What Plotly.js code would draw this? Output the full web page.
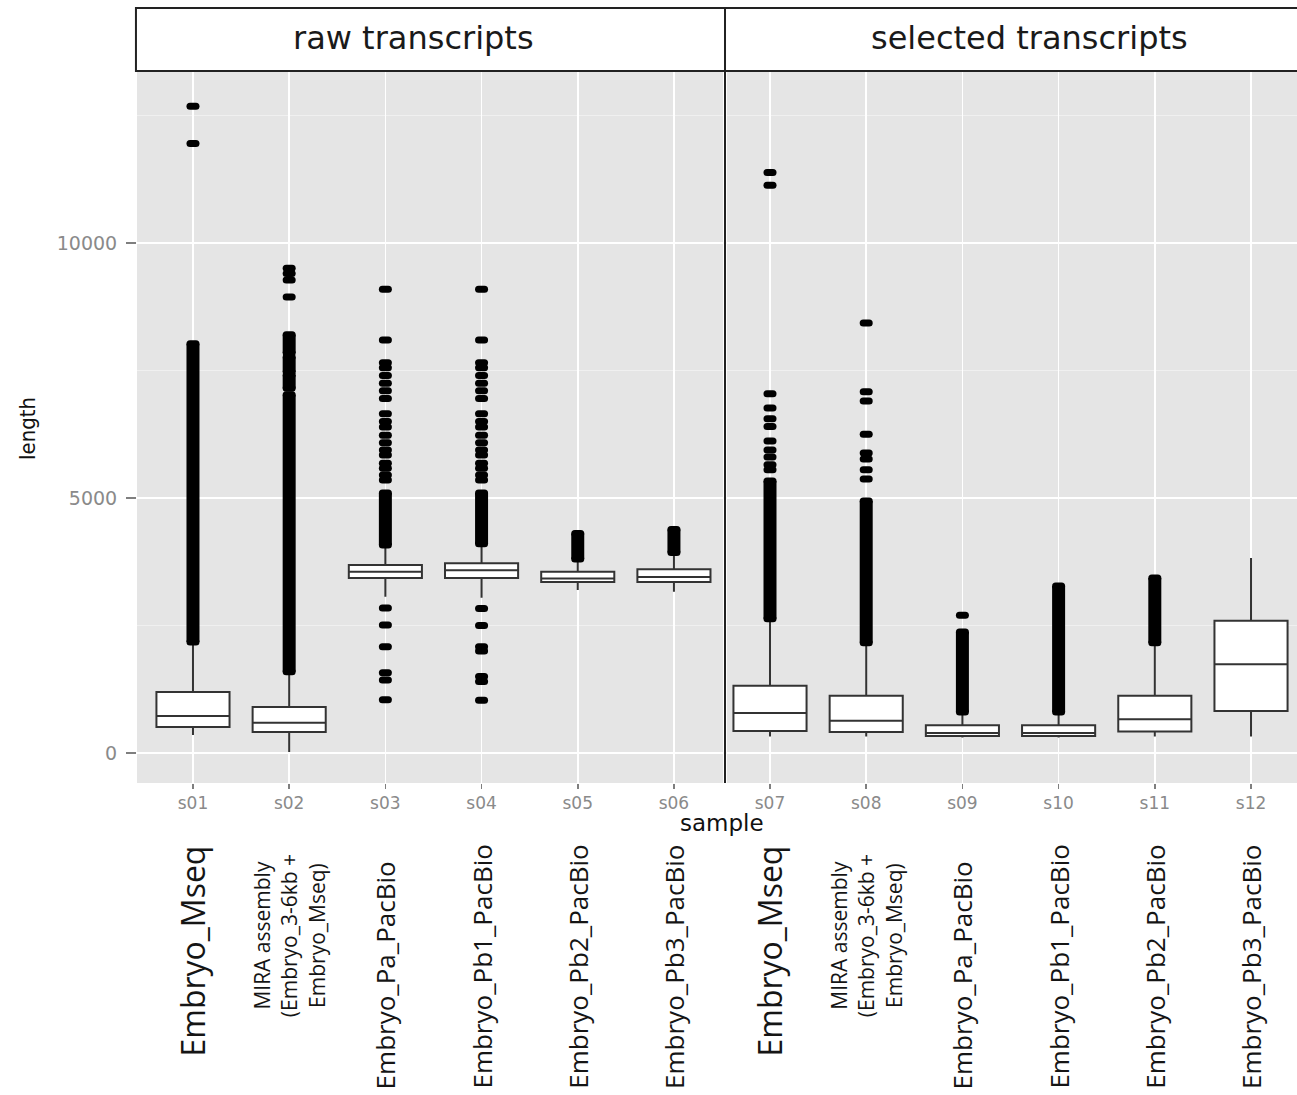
<!DOCTYPE html>
<html>
<head>
<meta charset="utf-8">
<script src="https://cdn.plot.ly/plotly-3.0.1.min.js"></script>
<style>
html,body{margin:0;padding:0;background:#fff;}
#chart{width:1297px;height:1095px;}
.js-plotly-plot .scatterlayer path.point{stroke-linecap:round;}
</style>
</head>
<body>
<div id="chart"></div>
<script>
// ---- data ----
const samples = ['s01','s02','s03','s04','s05','s06','s07','s08','s09','s10','s11','s12'];
const panelNames = ['raw transcripts','selected transcripts'];
const samplePanel = [0,0,0,0,0,0,1,1,1,1,1,1];
const sampleNames = [
  'Embryo_Mseq','MIRA assembly<br>(Embryo_3-6kb +<br>Embryo_Mseq)','Embryo_Pa_PacBio','Embryo_Pb1_PacBio','Embryo_Pb2_PacBio','Embryo_Pb3_PacBio',
  'Embryo_Mseq','MIRA assembly<br>(Embryo_3-6kb +<br>Embryo_Mseq)','Embryo_Pa_PacBio','Embryo_Pb1_PacBio','Embryo_Pb2_PacBio','Embryo_Pb3_PacBio'
];
const yTickVals = [0, 5000, 10000];
const q1          = [ 510,  410, 3430, 3430, 3350, 3350,  430,  410, 330, 330,  420,  820];
const median      = [ 725,  590, 3550, 3580, 3420, 3450,  780,  630, 390, 390,  660, 1740];
const q3          = [1195,  900, 3685, 3720, 3550, 3600, 1315, 1120, 540, 540, 1120, 2590];
const lowerWhisk  = [ 350,   20, 3060, 3040, 3195, 3160,  320,  320, 300, 300,  320,  320];
const upperWhisk  = [2175, 1590, 4077, 4100, 3780, 3920, 2620, 2160, 790, 790, 2160, 3820];
// single outliers
const outlierPoints = [
  [11950, 12680],
  [8940, 9270, 9400, 9500],
  [1040, 1430, 1570, 2080, 2510, 2840, 5350, 5450, 5580, 5680, 5840, 5940, 6080, 6230, 6390, 6500, 6650, 6950, 7100, 7250, 7400, 7550, 7650, 8095, 9090],
  [1030, 1400, 1500, 2000, 2080, 2500, 2830, 5350, 5450, 5580, 5680, 5840, 5940, 6080, 6230, 6390, 6500, 6650, 6950, 7100, 7250, 7400, 7550, 7650, 8095, 9090],
  [],
  [],
  [5550, 5650, 5800, 5940, 6115, 6400, 6550, 6760, 7040, 11130, 11380],
  [5370, 5550, 5760, 5880, 6250, 6900, 7080, 8430],
  [2700],
  [],
  [],
  []
];
// dense runs of outliers (start, end)
const outlierRuns = [
  [[2175, 8020]],
  [[1590, 7020], [7150, 7410], [7470, 7760], [7840, 8200]],
  [[4077, 5095]],
  [[4100, 5095]],
  [[3800, 4300]],
  [[3930, 4380]],
  [[2630, 5330]],
  [[2160, 4940]],
  [[800, 2370]],
  [[800, 3270]],
  [[2160, 3430]],
  []
];

// ---- traces ----
const traces = [];
for (let p = 0; p < 2; p++) {
  const xa = p === 0 ? 'x' : 'x2';
  const ya = p === 0 ? 'y' : 'y2';
  const idx = samples.map((s, i) => i).filter(i => samplePanel[i] === p);
  traces.push({
    type: 'box', xaxis: xa, yaxis: ya,
    x: idx.map(i => samples[i]),
    q1: idx.map(i => q1[i]), median: idx.map(i => median[i]), q3: idx.map(i => q3[i]),
    lowerfence: idx.map(i => lowerWhisk[i]), upperfence: idx.map(i => upperWhisk[i]),
    boxpoints: false, width: 0.76, whiskerwidth: 0,
    fillcolor: '#ffffff', line: {color: '#333333', width: 2},
    hoverinfo: 'skip', showlegend: false
  });
  const rx = [], ry = [];
  idx.forEach(i => outlierRuns[i].forEach(r => { rx.push(samples[i], samples[i], null); ry.push(r[0], r[1], null); }));
  traces.push({
    type: 'scatter', mode: 'lines', xaxis: xa, yaxis: ya, x: rx, y: ry,
    connectgaps: false, line: {color: '#000', width: 13}, hoverinfo: 'skip', showlegend: false
  });
  const px = [], py = [];
  idx.forEach(i => {
    outlierPoints[i].forEach(v => { px.push(samples[i]); py.push(v); });
    outlierRuns[i].forEach(r => { px.push(samples[i], samples[i]); py.push(r[0], r[1]); });
  });
  traces.push({
    type: 'scatter', mode: 'markers', xaxis: xa, yaxis: ya, x: px, y: py,
    marker: {symbol: 'line-ew', size: 4.3, color: '#000', line: {color: '#000', width: 7}},
    hoverinfo: 'skip', showlegend: false
  });
}

// ---- layout ----
const tickFontX = {family: 'DejaVu Sans, sans-serif', size: 17, color: '#8a8a8a'};
const tickFontY = {family: 'DejaVu Sans, sans-serif', size: 19, color: '#8a8a8a'};
const xCommon = {
  type: 'category', categoryorder: 'array',
  showgrid: true, gridcolor: '#ffffff', gridwidth: 1.6,
  ticks: 'outside', ticklen: 5, tickwidth: 1.5, tickcolor: '#7f7f7f',
  tickfont: tickFontX, zeroline: false, showline: false, fixedrange: true
};
const yCommon = {
  range: [-590, 13350], tickmode: 'array', tickvals: yTickVals, ticktext: yTickVals.map(String),
  showgrid: true, gridcolor: '#ffffff', gridwidth: 1.6,
  minor: {tick0: 0, dtick: 2500, showgrid: true, gridcolor: '#F2F2F2', gridwidth: 0.8, ticks: ''},
  zeroline: false, showline: false, fixedrange: true
};

const annotations = [];
// strip labels
const stripX = [0.238, 0.769];
panelNames.forEach((n, p) => annotations.push({
  xref: 'paper', yref: 'paper', x: stripX[p], y: 1.048, xanchor: 'center', yanchor: 'middle',
  text: n, showarrow: false, font: {family: 'DejaVu Sans, sans-serif', size: 32, color: '#1a1a1a'}
}));
// axis titles
annotations.push({xref: 'paper', yref: 'paper', x: 0.504, y: -0.0563, xanchor: 'center', yanchor: 'middle',
  text: 'sample', showarrow: false, font: {family: 'DejaVu Sans, sans-serif', size: 23, color: '#111'}});
annotations.push({xref: 'paper', yref: 'paper', x: -0.094, y: 0.4993, xanchor: 'center', yanchor: 'middle',
  text: 'length', textangle: -90, showarrow: false,
  font: {family: 'Liberation Sans Narrow, DejaVu Sans Condensed, Liberation Sans, sans-serif', size: 22, color: '#111'}});
// rotated sample names
sampleNames.forEach((n, i) => {
  const multi = n.indexOf('<br>') >= 0;
  const big = n === 'Embryo_Mseq';
  annotations.push({
    xref: samplePanel[i] === 0 ? 'x' : 'x2', yref: 'paper',
    x: samples[i], y: multi ? -0.2152 : (big ? -0.0844 : -0.4332),
    xanchor: 'center', yanchor: multi ? 'middle' : (big ? 'top' : 'bottom'),
    text: n, textangle: -90, showarrow: false, align: 'center',
    font: {family: 'Open Sans, sans-serif', size: multi ? 21 : (big ? 32 : 26), color: '#151515'}
  });
});

const layout = {
  width: 1297, height: 1095,
  margin: {l: 137, r: 0, t: 72, b: 312, pad: 0},
  paper_bgcolor: '#ffffff', plot_bgcolor: '#E5E5E5',
  showlegend: false,
  xaxis: Object.assign({}, xCommon, {domain: [0, 0.50517], categoryarray: samples.slice(0, 6), range: [-0.582, 5.51], anchor: 'y'}),
  xaxis2: Object.assign({}, xCommon, {domain: [0.50862, 1], categoryarray: samples.slice(6), range: [-0.447, 5.478], anchor: 'y2'}),
  yaxis: Object.assign({}, yCommon, {domain: [0, 1], anchor: 'x', ticks: 'outside', ticklen: 10, tickwidth: 1.5,
    tickcolor: '#7f7f7f', tickfont: tickFontY, ticklabelstandoff: 5}),
  yaxis2: Object.assign({}, yCommon, {domain: [0, 1], anchor: 'x2', matches: 'y', showticklabels: false, ticks: ''}),
  shapes: [
    {type: 'rect', xref: 'paper', yref: 'paper', x0: -0.0009, x1: 1.003, y0: 1.0014, y1: 1.09,
      fillcolor: '#ffffff', line: {color: '#222', width: 2}},
    {type: 'line', xref: 'paper', yref: 'paper', x0: 0.5069, x1: 0.5069, y0: 0, y1: 1.09,
      line: {color: '#222', width: 2}}
  ],
  annotations: annotations
};

Plotly.newPlot('chart', traces, layout, {staticPlot: true, displayModeBar: false});
</script>
</body>
</html>
